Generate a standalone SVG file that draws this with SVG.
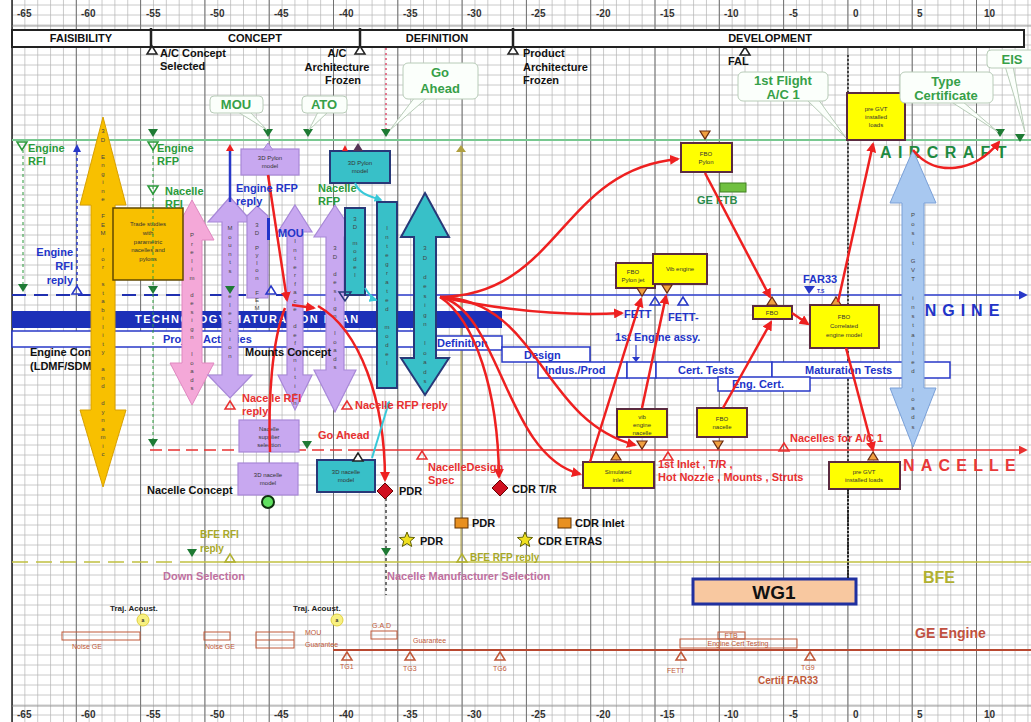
<svg xmlns="http://www.w3.org/2000/svg" width="1031" height="722" viewBox="0 0 1031 722">
<style>
text{font-family:"Liberation Sans",Arial,sans-serif;font-weight:bold}
.ax{font-size:10px;fill:#333}
.ph{font-size:11px;fill:#111;text-anchor:middle}
.gr{fill:#2a9a3a;font-size:11px}
.bl{fill:#2234c8;font-size:11px}
.rd{fill:#e83030;font-size:11px}
.bk{fill:#111;font-size:11px}
.ol{fill:#a8a828;font-size:10px}
.br{fill:#c05838;font-size:7px;font-weight:normal}
.co{fill:#36a048;font-size:13px;text-anchor:middle}
.cb{fill:#fbfffb;stroke:#b8ccb8;stroke-width:1}
.yb{fill:#ffff00;stroke:#5a2a40;stroke-width:2}
.lb{fill:#c8a8f0;stroke:#a888d8;stroke-width:1.2}
.tb{fill:#38c0c8;stroke:#283878;stroke-width:2}
.yt{font-size:6px;fill:#333;text-anchor:middle;font-weight:normal}
.vt{font-size:6px;fill:#444;writing-mode:vertical-rl;text-orientation:upright;font-weight:normal}
.box{fill:#fff;stroke:#2838c8;stroke-width:1.5}
.rl{fill:none;stroke:#ee2020;stroke-width:2.5;marker-end:url(#ar)}
.rn{fill:none;stroke:#ee2020;stroke-width:2.5}
.cl{fill:none;stroke:#38c8d8;stroke-width:2;marker-end:url(#ac)}
</style>
<defs>
<pattern id="minor" x="5.57" y="0" width="12.86" height="10" patternUnits="userSpaceOnUse"><path d="M6.43,0V10M0,5H12.86" stroke="#b4b4b4" stroke-width="0.7" fill="none"/></pattern>
<pattern id="major" x="-20.15" y="0" width="64.3" height="20" patternUnits="userSpaceOnUse"><path d="M32.15,0V20" stroke="#707070" stroke-width="1" fill="none"/></pattern>
<marker id="ar" viewBox="0 0 10 10" refX="8" refY="5" markerWidth="4" markerHeight="4" orient="auto"><path d="M0,0L10,5L0,10Z" fill="#ee2020"/></marker>
<marker id="ac" viewBox="0 0 10 10" refX="8" refY="5" markerWidth="4" markerHeight="4" orient="auto"><path d="M0,0L10,5L0,10Z" fill="#38c8d8"/></marker>
<marker id="ab" viewBox="0 0 10 10" refX="8" refY="5" markerWidth="6" markerHeight="6" orient="auto"><path d="M0,0L10,5L0,10Z" fill="#2838c8"/></marker>
<marker id="arn" viewBox="0 0 10 10" refX="8" refY="5" markerWidth="6" markerHeight="6" orient="auto"><path d="M0,0L10,5L0,10Z" fill="#e83030"/></marker>
<path id="tgd" d="M-5,-4L5,-4L0,4Z" fill="#1e7a34"/>
<path id="tgo" d="M-5,-4L5,-4L0,4Z" fill="none" stroke="#2a9a3a" stroke-width="1.5"/>
<path id="tuo" d="M-5,4L5,4L0,-4Z" fill="#fff" stroke="#222" stroke-width="1.5"/>
<path id="tod" d="M-5,-4L5,-4L0,4Z" fill="#f0a040" stroke="#6a2a10" stroke-width="1.2"/>
<path id="tou" d="M-5,4L5,4L0,-4Z" fill="#f0a040" stroke="#6a2a10" stroke-width="1.2"/>
<path id="tru" d="M-5,4L5,4L0,-4Z" fill="none" stroke="#e83030" stroke-width="1.5"/>
<path id="tbu" d="M-5,4L5,4L0,-4Z" fill="none" stroke="#2838c8" stroke-width="1.5"/>
<path id="tyu" d="M-5,4L5,4L0,-4Z" fill="none" stroke="#b0b030" stroke-width="1.5"/>
<path id="tbr" d="M-5,4L5,4L0,-4Z" fill="none" stroke="#c05838" stroke-width="1.5"/>
<polygon id="star" points="0,-8 2.06,-2.83 7.61,-2.47 3.33,1.08 4.7,6.47 0,3.5 -4.7,6.47 -3.33,1.08 -7.61,-2.47 -2.06,-2.83" fill="#f0e020" stroke="#606000" stroke-width="1"/>
</defs>

<g id="grid">
<rect x="0" y="0" width="1031" height="722" fill="#fff"/>
<rect x="12" y="0" width="1019" height="722" fill="url(#minor)"/>
<rect x="12" y="0" width="1019" height="722" fill="url(#major)"/>
<line x1="12" y1="0" x2="12" y2="722" stroke="#222" stroke-width="1.5"/>
<line x1="12" y1="26" x2="1031" y2="26" stroke="#888" stroke-width="0.8"/>
<line x1="12" y1="706" x2="1031" y2="706" stroke="#888" stroke-width="0.8"/>
</g>

<g id="axis">
<text class="ax" x="17" y="17">-65</text><text class="ax" x="81" y="17">-60</text><text class="ax" x="146" y="17">-55</text><text class="ax" x="210" y="17">-50</text><text class="ax" x="274" y="17">-45</text><text class="ax" x="339" y="17">-40</text><text class="ax" x="403" y="17">-35</text><text class="ax" x="467" y="17">-30</text><text class="ax" x="531" y="17">-25</text><text class="ax" x="596" y="17">-20</text><text class="ax" x="660" y="17">-15</text><text class="ax" x="724" y="17">-10</text><text class="ax" x="789" y="17">-5</text><text class="ax" x="853" y="17">0</text><text class="ax" x="917" y="17">5</text><text class="ax" x="984" y="17">10</text>
<text class="ax" x="17" y="718">-65</text><text class="ax" x="81" y="718">-60</text><text class="ax" x="146" y="718">-55</text><text class="ax" x="210" y="718">-50</text><text class="ax" x="274" y="718">-45</text><text class="ax" x="339" y="718">-40</text><text class="ax" x="403" y="718">-35</text><text class="ax" x="467" y="718">-30</text><text class="ax" x="531" y="718">-25</text><text class="ax" x="596" y="718">-20</text><text class="ax" x="660" y="718">-15</text><text class="ax" x="724" y="718">-10</text><text class="ax" x="789" y="718">-5</text><text class="ax" x="853" y="718">0</text><text class="ax" x="917" y="718">5</text><text class="ax" x="984" y="718">10</text>
</g>

<g id="phases">
<rect x="12" y="30" width="1012" height="17" fill="#fff" stroke="#222" stroke-width="2"/>
<path d="M151,28V50M360,28V50M513,28V50" stroke="#222" stroke-width="2.5"/>
<text class="ph" x="81" y="42">FAISIBILITY</text>
<text class="ph" x="255" y="42">CONCEPT</text>
<text class="ph" x="437" y="42">DEFINITION</text>
<text class="ph" x="770" y="42">DEVELOPMENT</text>
</g>

<g id="lanes">
<line x1="12" y1="140" x2="1031" y2="140" stroke="#78c890" stroke-width="2"/>
<line x1="12" y1="295" x2="300" y2="295" stroke="#2030b0" stroke-width="2" stroke-dasharray="14,8"/>
<line x1="300" y1="295" x2="1026" y2="295" stroke="#3040d0" stroke-width="1.5" marker-end="url(#ab)"/>
<line x1="150" y1="450" x2="350" y2="450" stroke="#e83030" stroke-width="1.5" stroke-dasharray="12,6"/>
<line x1="350" y1="450" x2="1026" y2="450" stroke="#e83030" stroke-width="1.5" marker-end="url(#arn)"/>
<line x1="12" y1="562" x2="185" y2="562" stroke="#c0c040" stroke-width="1.5" stroke-dasharray="16,8"/>
<line x1="185" y1="562" x2="1031" y2="562" stroke="#c0c040" stroke-width="1.5"/>
<line x1="333" y1="650" x2="1031" y2="650" stroke="#b84830" stroke-width="1.8"/>
<line x1="848" y1="55" x2="848" y2="578" stroke="#222" stroke-width="1.5" stroke-dasharray="2,2"/>
<line x1="386" y1="48" x2="386" y2="130" stroke="#e05070" stroke-width="1.5" stroke-dasharray="2,3"/>
<line x1="386" y1="498" x2="386" y2="595" stroke="#444" stroke-width="1.5" stroke-dasharray="3,3"/>
<line x1="461" y1="150" x2="461" y2="555" stroke="#b0a040" stroke-width="1"/>
<path d="M456,152L466,152L461,145Z" fill="#b0a040"/>
<text x="880" y="158" font-size="16" fill="#1e8a40" letter-spacing="6.4">AIRCRAFT</text>
<text x="908" y="316" font-size="16" fill="#2234c8" letter-spacing="6">ENGINE</text>
<text x="903" y="471" font-size="16" fill="#e83838" letter-spacing="6.2">NACELLE</text>
<text x="923" y="583" font-size="16" fill="#b0b030">BFE</text>
<text x="915" y="638" font-size="14" fill="#c05040">GE  Engine</text>
</g>

<g id="activities">
<rect x="12" y="311" width="490" height="17" fill="#1c30b8"/>
<text x="135" y="323" font-size="11" fill="#fff" letter-spacing="1.5">TECHNOLOGY MATURATION PLAN</text>
<rect class="box" x="12" y="331" width="418" height="16"/>
<text class="bl" x="163" y="343">Project Activities</text>
<rect class="box" x="430" y="336" width="72" height="14"/>
<text class="bl" x="437" y="347">Definition</text>
<rect class="box" x="502" y="347" width="88" height="15"/>
<text class="bl" x="524" y="359">Design</text>
<rect class="box" x="538" y="362" width="89" height="16"/>
<text class="bl" x="545" y="374">Indus./Prod</text>
<rect class="box" x="627" y="362" width="29" height="16"/>
<rect class="box" x="656" y="362" width="116" height="16"/>
<text class="bl" x="678" y="374">Cert. Tests</text>
<rect class="box" x="772" y="362" width="178" height="16"/>
<text class="bl" x="805" y="374">Maturation Tests</text>
<rect class="box" x="718" y="377" width="92" height="14"/>
<text class="bl" x="732" y="388">Eng. Cert.</text>
<text class="bl" x="615" y="341" font-size="10">1st Engine assy.</text>
<path d="M636,345V358" stroke="#2838c8" stroke-width="1.2"/><path d="M632,357L640,357L636,362Z" fill="#2838c8"/>
<text class="bl" x="624" y="318" font-size="10">FETT</text>
<text class="bl" x="668" y="321" font-size="10">FETT-</text>
<use href="#tbu" x="655" y="301"/><use href="#tbu" x="683" y="301"/>
<text class="bl" x="803" y="283" font-size="12">FAR33</text>
<path d="M804,286L815,286L809,294Z" fill="#2838c8"/>
<text x="817" y="293" font-size="5" fill="#2838c8" font-weight="normal">T.S</text>
<text class="bk" x="30" y="356">Engine Concept</text>
<text class="bk" x="30" y="370">(LDMF/SDMF..)</text>
<text class="bk" x="147" y="494">Nacelle Concept</text>
</g>

<g id="big-arrows">
<path id="a-yellow" d="M103,117L126,205L115,205L115,410L126,410L103,487L80,410L91,410L91,205L80,205Z" fill="#f8c000" stroke="#d8a000" stroke-width="1"/>
<text class="vt" x="103" y="128" letter-spacing="2.5">3D Engine FEM for stability and dynamic</text>
<path id="a-pink" d="M192,200L214,240L202,240L202,363L214,363L192,405L170,363L182,363L182,240L170,240Z" fill="#f4a8d8" stroke="#e088c0" stroke-width="1"/>
<text class="vt" x="192" y="232" letter-spacing="2.5">Prelim design loads</text>
<path id="a-lavA" d="M230,197L252,222L238,222L238,375L252,375L230,398L208,375L222,375L222,222L208,222Z" class="lb"/>
<text class="vt" x="230" y="225" letter-spacing="2.5">Mounts selection</text>
<path id="a-lavB" d="M257,206L268,216L268,298L247,298L247,216Z" class="lb"/>
<text class="vt" x="257" y="222" letter-spacing="1.5">3D Pylon FEM</text>
<path id="a-lavC" d="M295,205L312,232L303,232L303,375L312,375L295,410L278,375L287,375L287,232L278,232Z" class="lb"/>
<text class="vt" x="295" y="238" letter-spacing="2.5">Interface definition</text>
<path id="a-lavD" d="M335,205L356,237L344,237L344,370L356,370L335,412L314,370L326,370L326,237L314,237Z" class="lb"/>
<text class="vt" x="335" y="245" letter-spacing="2.5">3D design loads</text>
<rect class="tb" x="345" y="208" width="20" height="87"/>
<text class="vt" x="355" y="216" letter-spacing="2">3D model</text>
<rect class="tb" x="377" y="202" width="20" height="186"/>
<text class="vt" x="387" y="225" letter-spacing="3">Integrated model</text>
<path id="a-teal" d="M425,193L449,237L436,237L436,358L449,358L425,395L401,358L414,358L414,237L401,237Z" class="tb"/>
<text class="vt" x="425" y="245" letter-spacing="3.5">3D design loads</text>
<path id="a-blue" d="M913,150L936,203L924,203L924,388L936,388L913,447L890,388L902,388L902,203L890,203Z" fill="#a8c8f0" stroke="#7aa0d8" stroke-width="1"/>
<text class="vt" x="913" y="212" letter-spacing="3.2">Post GVT installed loads</text>
</g>

<g id="n-trade"><rect x="113" y="208" width="70" height="72" fill="#f8c000" stroke="#604800" stroke-width="1.5"/>
<text class="yt" x="148" y="226">Trade studies</text><text class="yt" x="148" y="235">with</text><text class="yt" x="148" y="244">parametric</text><text class="yt" x="148" y="252">nacelles and</text><text class="yt" x="148" y="261">pylons</text></g>
<g id="n-lavpylon"><rect class="lb" x="241" y="149" width="58" height="26"/><text class="yt" x="270" y="160">3D Pylon</text><text class="yt" x="270" y="168">model</text></g>
<g id="n-tealpylon"><rect class="tb" x="330" y="151" width="60" height="32"/><text class="yt" x="360" y="165">3D Pylon</text><text class="yt" x="360" y="173">model</text></g>
<g id="n-supplier"><rect class="lb" x="239" y="420" width="60" height="32"/><text class="yt" x="269" y="431">Nacelle</text><text class="yt" x="269" y="439">supplier</text><text class="yt" x="269" y="447">selection</text></g>
<g id="n-lavnacelle"><rect class="lb" x="238" y="463" width="60" height="32"/><text class="yt" x="268" y="477">3D nacelle</text><text class="yt" x="268" y="485">model</text></g>
<g id="n-tealnacelle"><rect class="tb" x="317" y="460" width="58" height="32"/><text class="yt" x="346" y="474">3D nacelle</text><text class="yt" x="346" y="482">model</text></g>
<circle cx="268" cy="502" r="6" fill="#60e060" stroke="#103010" stroke-width="2"/>

<g id="n-fbopylon"><rect class="yb" x="681" y="143" width="51" height="29"/><text class="yt" x="706" y="156">FBO</text><text class="yt" x="706" y="164">Pylon</text></g>
<g id="n-pregvt1"><rect class="yb" x="847" y="93" width="58" height="47"/><text class="yt" x="876" y="111">pre GVT</text><text class="yt" x="876" y="119">installed</text><text class="yt" x="876" y="127">loads</text></g>
<g id="n-fbojet"><rect class="yb" x="616" y="263" width="39" height="25"/><text class="yt" x="633" y="274">FBO</text><text class="yt" x="633" y="282">Pylon jet</text></g>
<g id="n-vib"><rect class="yb" x="653" y="254" width="54" height="30"/><text class="yt" x="680" y="271">Vib engine</text></g>
<g id="n-fbo"><rect class="yb" x="753" y="306" width="39" height="13"/><text class="yt" x="772" y="315">FBO</text></g>
<g id="n-fbocorr"><rect class="yb" x="810" y="305" width="69" height="43"/><text class="yt" x="844" y="319">FBO</text><text class="yt" x="844" y="328">Correlated</text><text class="yt" x="844" y="337">engine model</text></g>
<g id="n-vibnac"><rect class="yb" x="617" y="409" width="50" height="28"/><text class="yt" x="642" y="419">vib</text><text class="yt" x="642" y="427">engine</text><text class="yt" x="642" y="435">nacelle</text></g>
<g id="n-fbonac"><rect class="yb" x="697" y="408" width="50" height="29"/><text class="yt" x="722" y="421">FBO</text><text class="yt" x="722" y="429">nacelle</text></g>
<g id="n-siminlet"><rect class="yb" x="583" y="462" width="71" height="26"/><text class="yt" x="618" y="474">Simulated</text><text class="yt" x="618" y="482">inlet</text></g>
<g id="n-pregvt2"><rect class="yb" x="829" y="462" width="71" height="27"/><text class="yt" x="864" y="474">pre GVT</text><text class="yt" x="864" y="482">installed loads</text></g>
<g id="n-gftb"><rect x="720" y="183" width="26" height="9" fill="#70c040" stroke="#408020" stroke-width="1"/><text x="697" y="204" font-size="11" fill="#2a8a4a">GE FTB</text></g>
<g id="n-wg1"><rect x="693" y="579" width="163" height="25" fill="#f8c8a0" stroke="#2030a0" stroke-width="3"/><text x="774" y="599" font-size="19" fill="#111" text-anchor="middle">WG1</text></g>

<g id="markers">
<use href="#tod" x="705" y="135"/>
<use href="#tod" x="642" y="292"/><use href="#tod" x="667" y="289"/>
<use href="#tou" x="772" y="301"/><use href="#tou" x="836" y="301"/>
<use href="#tod" x="642" y="445"/><use href="#tod" x="718" y="445"/>
<use href="#tou" x="616" y="456"/><use href="#tou" x="873" y="456"/>
<use href="#tru" x="668" y="456"/><use href="#tru" x="784" y="447"/>
<use href="#tru" x="230" y="405"/><use href="#tru" x="347" y="405"/><use href="#tru" x="422" y="455"/>
<use href="#tuo" x="358" y="457"/>
<use href="#tgd" x="268" y="133"/><use href="#tgd" x="308" y="133"/><use href="#tgd" x="386" y="133"/><use href="#tgd" x="153" y="133"/><use href="#tgd" x="1000" y="133"/><use href="#tgd" x="1020" y="138"/>
<use href="#tgo" x="22" y="146"/><use href="#tgo" x="153" y="146"/><use href="#tgo" x="153" y="190"/>
<use href="#tgd" x="23" y="288"/><use href="#tgd" x="153" y="290"/><use href="#tgd" x="230" y="290"/>
<use href="#tgd" x="153" y="443"/><use href="#tgd" x="307" y="445"/>
<use href="#tbu" x="77" y="290"/><use href="#tbu" x="271" y="290"/>
<path d="M339,292L351,292L345,301Z" fill="none" stroke="#283878" stroke-width="1.5"/>
<path d="M263,150L273,150L268,143Z" fill="#c8a8f0" stroke="#a888d8"/>
<path d="M353,151L363,151L358,143Z" fill="#553355"/>
<path d="M342,151L348,151L345,145Z" fill="#ee2020"/>
<path d="M226,151L234,151L230,144Z" fill="#ee2020"/>
<use href="#tuo" x="152" y="50"/><use href="#tuo" x="360" y="50"/><use href="#tuo" x="513" y="50"/><use href="#tuo" x="745" y="51"/>
<use href="#tgd" x="192" y="553"/><use href="#tgd" x="386" y="552"/>
<use href="#tyu" x="230" y="558"/><use href="#tyu" x="462" y="558"/>
<path d="M385,483L393,491L385,499L377,491Z" fill="#d01020" stroke="#600" stroke-width="1"/>
<path d="M500,480L508,488L500,496L492,488Z" fill="#d01020" stroke="#600" stroke-width="1"/>
<rect x="455" y="518" width="13" height="10" fill="#e89020" stroke="#603000"/>
<rect x="558" y="518" width="13" height="10" fill="#e89020" stroke="#603000"/>
<use href="#star" x="407" y="540"/><use href="#star" x="525" y="540"/>
<use href="#tbr" x="347" y="656"/><use href="#tbr" x="410" y="656"/><use href="#tbr" x="500" y="656"/><use href="#tbr" x="681" y="656"/><use href="#tbr" x="810" y="656"/>
</g>

<g id="connectors">
<line x1="23" y1="150" x2="23" y2="284" stroke="#2a9a3a" stroke-width="1" stroke-dasharray="3,3"/>
<line x1="153" y1="150" x2="153" y2="439" stroke="#2a9a3a" stroke-width="1" stroke-dasharray="3,3"/>
<line x1="77" y1="152" x2="77" y2="286" stroke="#2838c8" stroke-width="1.5" stroke-dasharray="3,3"/>
<path d="M73,152L81,152L77,144Z" fill="#2838c8"/>
<line x1="230" y1="151" x2="230" y2="202" stroke="#2838c8" stroke-width="2.5"/>
<line x1="848" y1="489" x2="848" y2="578" stroke="#222" stroke-width="2" stroke-dasharray="2,1.5"/>
<path class="rl" d="M268,175L287,300"/>
<path class="rn" d="M270,452C268,400 272,340 285,308"/>
<path class="rl" d="M292,305L314,308"/>
<path class="rl" d="M318,306C360,330 385,400 385,480"/>
<path class="rl" d="M440,297C560,295 560,170 678,159"/>
<path class="rl" d="M440,297Q540,318 622,313"/>
<path class="rl" d="M440,297C540,300 540,420 635,445"/>
<path class="rl" d="M440,297C500,310 505,455 580,474"/>
<path class="rl" d="M440,297C475,320 498,390 499,477"/>
<path class="rl" d="M590,462L641,299"/>
<path class="rl" d="M642,408L666,296"/>
<path class="rl" d="M723,408L771,322"/>
<path class="rl" d="M705,173L770,297"/>
<path class="rl" d="M792,313L808,324"/>
<path class="rl" d="M838,302L873,144"/>
<path class="rl" d="M846,348L873,450"/>
<path class="rl" d="M913,150C935,178 975,172 999,142"/>
<path class="cl" d="M355,183C360,195 370,196 381,200"/>
<path class="cl" d="M365,288C370,296 373,299 376,300"/>
<path class="cl" d="M372,458L389,402"/>
</g>

<g id="callouts">
<polygon class="cb" points="238,112 250,112 267,130"/><rect class="cb" x="210" y="96" width="53" height="17" rx="4"/><text class="co" x="236" y="109">MOU</text>
<polygon class="cb" points="318,112 328,112 309,130"/><rect class="cb" x="302" y="96" width="45" height="17" rx="4"/><text class="co" x="324" y="109">ATO</text>
<polygon class="cb" points="415,97 428,97 390,130"/><rect class="cb" x="403" y="63" width="75" height="36" rx="5"/><text class="co" x="440" y="77">Go</text><text class="co" x="440" y="93">Ahead</text>
<polygon class="cb" points="806,99 818,99 846,138"/><rect class="cb" x="738" y="72" width="90" height="29" rx="5"/><text class="co" x="783" y="85">1st  Flight</text><text class="co" x="783" y="99">A/C  1</text>
<polygon class="cb" points="950,101 962,101 998,132"/><rect class="cb" x="900" y="72" width="93" height="31" rx="5"/><text class="co" x="946" y="86">Type</text><text class="co" x="946" y="100">Certificate</text>
<polygon class="cb" points="1005,66 1013,66 1025,132"/><rect class="cb" x="987" y="50" width="50" height="18" rx="4"/><text class="co" x="1012" y="64">EIS</text>
</g>

<g id="labels">
<text class="bk" x="160" y="57">A/C Concept</text><text class="bk" x="160" y="70">Selected</text>
<text class="bk" x="337" y="57" text-anchor="middle">A/C</text><text class="bk" x="337" y="71" text-anchor="middle">Architecture</text><text class="bk" x="343" y="84" text-anchor="middle">Frozen</text>
<text class="bk" x="523" y="57">Product</text><text class="bk" x="523" y="71">Architecture</text><text class="bk" x="523" y="84">Frozen</text>
<text class="bk" x="728" y="65">FAL</text>
<text class="gr" x="28" y="152">Engine</text><text class="gr" x="28" y="165">RFI</text>
<text class="gr" x="157" y="152">Engine</text><text class="gr" x="157" y="165">RFP</text>
<text class="gr" x="165" y="195">Nacelle</text><text class="gr" x="165" y="208">RFI</text>
<text class="gr" x="318" y="192">Nacelle</text><text class="gr" x="318" y="205">RFP</text>
<text class="bl" x="236" y="192">Engine RFP</text><text class="bl" x="236" y="205">reply</text>
<text class="bl" x="73" y="256" text-anchor="end">Engine</text><text class="bl" x="73" y="270" text-anchor="end">RFI</text><text class="bl" x="73" y="284" text-anchor="end">reply</text>
<rect x="267" y="218" width="3" height="22" fill="#2234c8"/><text class="bl" x="278" y="237" font-size="14">MOU</text>
<text class="bk" x="245" y="356">Mounts Concept</text>
<text class="rd" x="242" y="402">Nacelle RFI</text><text class="rd" x="242" y="415">reply</text>
<text class="rd" x="355" y="409">Nacelle RFP reply</text>
<text class="rd" x="318" y="439" font-size="14">Go Ahead</text>
<text class="rd" x="428" y="471">NacelleDesign</text><text class="rd" x="428" y="484">Spec</text>
<text class="rd" x="658" y="468" font-size="10">1st Inlet , T/R ,</text><text class="rd" x="658" y="481" font-size="10">Hot Nozzle , Mounts , Struts</text>
<text class="rd" x="790" y="442" font-size="10">Nacelles for A/C 1</text>
<text class="bk" x="399" y="495">PDR</text>
<text class="bk" x="512" y="493">CDR T/R</text>
<text class="bk" x="472" y="527">PDR</text>
<text class="bk" x="575" y="527">CDR Inlet</text>
<text class="bk" x="420" y="545">PDR</text>
<text class="bk" x="538" y="545">CDR ETRAS</text>
<text class="ol" x="200" y="538">BFE RFI</text><text class="ol" x="200" y="552">reply</text>
<text class="ol" x="470" y="561">BFE RFP reply</text>
<text x="163" y="580" font-size="11" fill="#c070a0">Down Selection</text>
<text x="387" y="580" font-size="11" fill="#c070a0">Nacelle Manufacturer Selection</text>
</g>

<g id="ge-engine">
<text x="110" y="611" font-size="8" fill="#222">Traj. Acoust.</text>
<circle cx="143" cy="620" r="6" fill="#f8f080" stroke="#e0d040"/><text x="143" y="622" font-size="5" fill="#333" text-anchor="middle" font-weight="normal">a</text>
<text x="293" y="611" font-size="8" fill="#222">Traj. Acoust.</text>
<circle cx="337" cy="620" r="6" fill="#f8f080" stroke="#e0d040"/><text x="337" y="622" font-size="5" fill="#333" text-anchor="middle" font-weight="normal">a</text>
<rect x="62" y="632" width="78" height="8" fill="none" stroke="#c05838"/><text class="br" x="72" y="649">Noise GE</text>
<rect x="204" y="632" width="26" height="8" fill="none" stroke="#c05838"/><text class="br" x="205" y="649">Noise GE</text>
<rect x="256" y="632" width="38" height="16" fill="none" stroke="#c05838"/><line x1="256" y1="640" x2="294" y2="640" stroke="#c05838"/>
<text class="br" x="305" y="635">MOU</text><text class="br" x="305" y="647">Guarantee</text>
<text class="br" x="372" y="628">G.A.D</text><rect x="371" y="631" width="26" height="8" fill="none" stroke="#c05838"/>
<text class="br" x="413" y="643">Guarantee</text>
<text class="br" x="340" y="669">TG1</text><text class="br" x="403" y="671">TG3</text><text class="br" x="493" y="671">TG6</text>
<rect x="718" y="632" width="27" height="7" fill="none" stroke="#c05838"/><text class="br" x="731" y="638" font-size="5" text-anchor="middle">FTB</text>
<rect x="680" y="639" width="117" height="9" fill="none" stroke="#c05838"/><text class="br" x="738" y="646" font-size="5" text-anchor="middle">Engine Cert Testing</text>
<text class="br" x="667" y="673" font-size="8">FETT</text><text class="br" x="801" y="670">TG9</text>
<text x="758" y="684" font-size="10" fill="#c05838">Certif FAR33</text>
</g>
</svg>
